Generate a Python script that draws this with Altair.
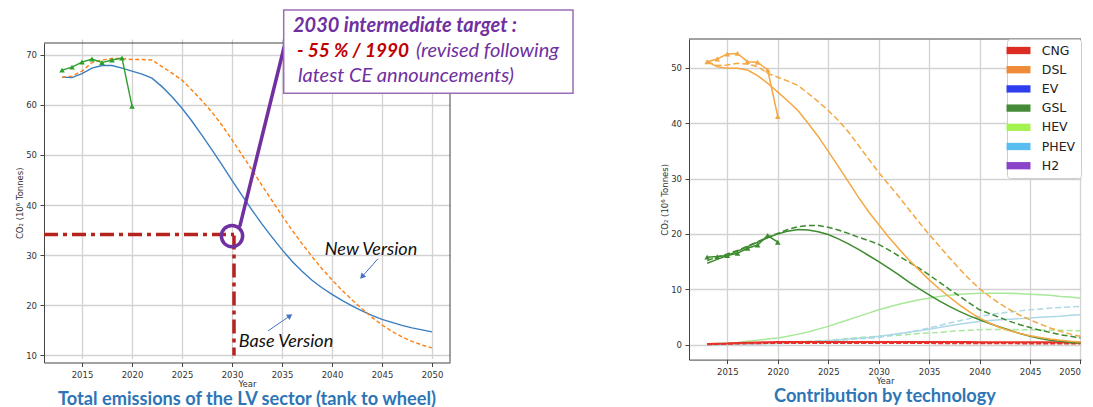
import altair as alt
import pandas as pd

# ---------------- data ----------------
years = list(range(2013, 2051))
hist_years = list(range(2013, 2021))

# Left panel: total LV emissions (10^6 t CO2)
total_base = [65.5, 65.4, 66.2, 67.3, 67.8, 67.8, 67.3, 66.7, 66.1, 65.3, 63.6, 61.6, 59.3, 56.7,
              53.9, 51.0, 48.0, 44.9, 41.9, 39.0, 36.2, 33.6, 31.1, 28.8, 26.8, 25.0, 23.5, 22.2,
              21.0, 19.9, 18.9, 18.0, 17.2, 16.6, 16.0, 15.5, 15.1, 14.7]
total_new = [65.5, 65.7, 66.7, 68.4, 68.9, 69.2, 69.2, 69.0, 69.0, 68.9, 67.6, 66.3, 64.9, 62.9,
             60.8, 58.5, 55.9, 53.0, 50.0, 47.0, 43.9, 40.9, 37.9, 35.0, 32.3, 29.7, 27.3, 25.1,
             23.0, 21.1, 19.3, 17.6, 16.1, 14.8, 13.7, 12.8, 12.1, 11.5]
total_hist = [66.9, 67.5, 68.5, 69.1, 68.4, 68.9, 69.3, 59.7]

# Right panel: contribution by technology
dsl_hist = [51.1, 51.6, 52.5, 52.6, 51.1, 51.0, 49.6, 41.2]
gsl_hist = [15.8, 15.9, 16.1, 16.5, 17.4, 18.0, 19.7, 18.5]
dsl_base = [51.1, 50.2, 49.9, 49.9, 49.6, 48.6, 47.2, 45.6, 44.0, 42.3, 40.0, 37.6, 34.9, 32.2,
            29.4, 26.6, 24.0, 21.7, 19.4, 17.3, 15.3, 13.5, 11.7, 10.1, 8.6, 7.2, 5.9, 4.8,
            3.9, 3.1, 2.5, 2.0, 1.6, 1.3, 1.0, 0.8, 0.6, 0.5]
dsl_new = [51.1, 50.4, 50.5, 50.8, 50.7, 50.2, 49.0, 48.3, 47.6, 46.8, 45.4, 43.9, 42.3, 40.5,
           38.4, 36.0, 33.5, 31.1, 28.9, 26.7, 24.4, 22.1, 19.9, 17.8, 15.7, 13.7, 11.8, 10.1,
           8.7, 7.4, 6.3, 5.3, 4.5, 3.7, 3.0, 2.4, 1.9, 1.5]
gsl_base = [14.7, 15.4, 16.1, 16.9, 17.7, 18.5, 19.3, 20.0, 20.5, 20.8, 20.7, 20.4, 19.9, 19.1,
            18.2, 17.2, 16.1, 15.0, 13.8, 12.6, 11.3, 10.1, 9.0, 7.9, 6.9, 6.0, 5.2, 4.5,
            3.8, 3.2, 2.6, 2.0, 1.5, 1.1, 0.8, 0.6, 0.4, 0.3]
gsl_new = [15.2, 15.8, 16.4, 17.0, 17.8, 18.6, 19.4, 20.1, 20.8, 21.3, 21.5, 21.5, 21.2, 20.7,
           20.1, 19.4, 18.8, 18.1, 17.1, 16.0, 14.9, 13.8, 12.6, 11.3, 10.0, 8.8, 7.5, 6.3,
           5.6, 4.9, 4.2, 3.6, 3.1, 2.6, 2.2, 1.8, 1.5, 1.2]
hev_base = [0.1, 0.2, 0.3, 0.4, 0.6, 0.8, 1.0, 1.2, 1.5, 1.9, 2.3, 2.8, 3.3, 3.9,
            4.5, 5.1, 5.7, 6.3, 6.8, 7.3, 7.7, 8.1, 8.4, 8.7, 8.9, 9.1, 9.2, 9.3,
            9.3, 9.3, 9.3, 9.2, 9.1, 9.0, 8.9, 8.7, 8.6, 8.4]
hev_new = [0.0, 0.05, 0.1, 0.15, 0.2, 0.25, 0.3, 0.35, 0.4, 0.5, 0.6, 0.7, 0.8, 0.95,
           1.1, 1.25, 1.4, 1.5, 1.6, 1.7, 1.85, 2.0, 2.1, 2.2, 2.35, 2.5, 2.6, 2.7,
           2.75, 2.75, 2.75, 2.7, 2.7, 2.65, 2.6, 2.6, 2.55, 2.5]
phev_base = [0.0, 0.0, 0.05, 0.1, 0.1, 0.15, 0.2, 0.25, 0.3, 0.4, 0.5, 0.6, 0.7, 0.85,
             1.0, 1.15, 1.3, 1.5, 1.75, 2.0, 2.25, 2.5, 2.8, 3.1, 3.4, 3.7, 3.95, 4.2,
             4.35, 4.5, 4.6, 4.7, 4.8, 4.95, 5.05, 5.15, 5.3, 5.4]
phev_new = [0.0, 0.0, 0.05, 0.1, 0.1, 0.15, 0.15, 0.2, 0.3, 0.35, 0.45, 0.55, 0.7, 0.8,
            0.9, 1.05, 1.15, 1.3, 1.6, 1.9, 2.25, 2.6, 3.0, 3.45, 3.9, 4.3, 4.7, 5.1,
            5.4, 5.7, 5.9, 6.1, 6.3, 6.45, 6.6, 6.7, 6.8, 6.9]
cng_base = [0.1, 0.15, 0.2, 0.3, 0.35, 0.4, 0.45, 0.5, 0.5, 0.5, 0.5, 0.5, 0.5, 0.5,
            0.5, 0.5, 0.5, 0.5, 0.5, 0.5, 0.5, 0.48, 0.48, 0.47, 0.47, 0.46, 0.46, 0.45,
            0.45, 0.44, 0.44, 0.43, 0.43, 0.42, 0.42, 0.41, 0.41, 0.4]
cng_new = [0.05, 0.1, 0.15, 0.2, 0.25, 0.25, 0.3, 0.3, 0.3, 0.3, 0.3, 0.3, 0.3, 0.3,
           0.3, 0.3, 0.3, 0.3, 0.3, 0.3, 0.3, 0.28, 0.28, 0.27, 0.27, 0.26, 0.26, 0.25,
           0.25, 0.24, 0.24, 0.23, 0.23, 0.22, 0.22, 0.21, 0.21, 0.2]

techs = ["CNG", "DSL", "EV", "GSL", "HEV", "PHEV", "H2"]
tech_colors = ["#dd2c22", "#ee8a38", "#2e3df0", "#448a37", "#a3f24f", "#58bef0", "#8b44c8"]

x_ticks = [2015, 2020, 2025, 2030, 2035, 2040, 2045, 2050]
y_ticks_left = [10, 20, 30, 40, 50, 60, 70]
y_ticks_right = [0, 10, 20, 30, 40, 50]

# ---------------- styling helpers ----------------
FONT = "DejaVu Sans"
LX = [2011.2, 2051.8]
LY = [8.6, 72.3]
RX = [2011.2, 2050.05]
RY = [-2.7, 55.2]
LW, LH = 406, 323.5
RW, RH = 392, 320.6

xs_l = alt.Scale(domain=LX, nice=False, zero=False)
ys_l = alt.Scale(domain=LY, nice=False, zero=False, range=[LH, 4])
xs_r = alt.Scale(domain=RX, nice=False, zero=False)
ys_r = alt.Scale(domain=RY, nice=False, zero=False)

def axis(values, title, **extra):
    return alt.Axis(values=values, format="d", grid=True, gridColor="#d2d2d2", gridWidth=1.3,
                    domainColor="#444", tickColor="#444", tickSize=4, labelFont=FONT,
                    labelFontSize=8.5, labelColor="#333", labelPadding=3.5, title=title,
                    titleFont=FONT, titleFontSize=8.5, titleFontWeight="normal",
                    titleColor="#333", titlePadding=1, **extra)

ax_xl = axis(x_ticks, "Year")
ax_yl = axis(y_ticks_left, "CO₂ (10⁶ Tonnes)")
ax_xr = axis(x_ticks, "Year", labelFlush=5)
ax_yr = axis(y_ticks_right, "CO₂ (10⁶ Tonnes)")

def XL(f="year"): return alt.X(f, type="quantitative", scale=xs_l, axis=ax_xl)
def YL(f="value"): return alt.Y(f, type="quantitative", scale=ys_l, axis=ax_yl)
def XR(f="year"): return alt.X(f, type="quantitative", scale=xs_r, axis=ax_xr)
def YR(f="value"): return alt.Y(f, type="quantitative", scale=ys_r, axis=ax_yr)

def series(ys, xs=years):
    return pd.DataFrame({"year": xs, "value": ys})

# ---------------- left panel ----------------
l_base = alt.Chart(series(total_base)).mark_line(color="#3b7ec0", strokeWidth=1.4).encode(x=XL(), y=YL())
l_new = alt.Chart(series(total_new)).mark_line(color="#ff7f0e", strokeWidth=1.4, strokeDash=[4, 2.5]).encode(x=XL(), y=YL())
l_hist = alt.Chart(series(total_hist, hist_years)).mark_line(
    color="#2ca02c", strokeWidth=1.4,
    point=alt.OverlayMarkDef(shape="triangle-up", size=32, filled=True, color="#2ca02c")
).encode(x=XL(), y=YL())

spine_l = pd.DataFrame({"x": [LX[0], LX[1]], "x2": [LX[1], LX[1]], "y": [LY[1], LY[0]], "y2": [LY[1], LY[1]]})
l_spine = alt.Chart(spine_l).mark_rule(color="#444", strokeWidth=1).encode(
    x=XL("x"), x2="x2", y=YL("y"), y2="y2")

target = pd.DataFrame({"x": [LX[0], 2030.2], "x2": [2030.2, 2030.2], "y": [34.1, 33.9], "y2": [34.1, 10.0]})
l_target = alt.Chart(target).mark_rule(color="#b5231f", strokeWidth=3.5, strokeDash=[14, 5, 4, 5]).encode(
    x=XL("x"), x2="x2", y=YL("y"), y2="y2")

circle = pd.DataFrame({"year": [2030.0], "value": [33.8]})
l_circle = alt.Chart(circle).mark_point(shape="circle", size=452, filled=False, color="#7030a0",
                                        strokeWidth=3.5, opacity=1).encode(x=XL(), y=YL())

pointer = pd.DataFrame({"x": [2030.8], "y": [35.9], "x2": [2035.2], "y2": [71.4]})
l_pointer = alt.Chart(pointer).mark_rule(color="#7030a0", strokeWidth=3.5, strokeCap="round").encode(
    x=XL("x"), x2="x2", y=YL("y"), y2="y2")

box = pd.DataFrame({"x": [2035.17], "x2": [2064.1], "y": [78.9], "y2": [62.3]})
l_box = alt.Chart(box).mark_rect(fill="white", stroke="#9c6cb8", strokeWidth=1.5).encode(
    x=XL("x"), x2="x2", y=YL("y"), y2="y2")

def txt(df, color, size=20, weight="normal", style="italic"):
    return alt.Chart(df).mark_text(align="left", baseline="middle", font="Lato", fontSize=size,
                                   fontWeight=weight, fontStyle=style, color=color).encode(
        x=XL(), y=YL(), text="t:N")

l_t1 = txt(pd.DataFrame({"year": [2036.1], "value": [75.7], "t": ["2030 intermediate target :"]}), "#7030a0", size=20, weight="bold")
l_t2a = txt(pd.DataFrame({"year": [2036.5], "value": [70.7], "t": ["- 55 % / 1990"]}), "#c00000", size=19, weight="bold")
l_t2b = txt(pd.DataFrame({"year": [2048.4], "value": [70.7], "t": ["(revised following"]}), "#7030a0")
l_t3 = txt(pd.DataFrame({"year": [2036.6], "value": [65.7], "t": ["latest CE announcements)"]}), "#7030a0")

labels = pd.DataFrame({"year": [2043.9, 2035.4], "value": [31.1, 12.7], "t": ["New Version", "Base Version"]})
l_labels = alt.Chart(labels).mark_text(align="center", baseline="middle", font="Lato", fontSize=18,
                                       fontStyle="italic", color="#111").encode(x=XL(), y=YL(), text="t:N")

arrows = pd.DataFrame({"x": [2044.6, 2033.6], "y": [29.3, 14.9], "x2": [2043.0, 2035.8], "y2": [25.7, 17.9],
                       "ang": [221.6, 55.7]})
l_arrow_lines = alt.Chart(arrows).mark_rule(color="#4472c4", strokeWidth=1).encode(
    x=XL("x"), x2="x2", y=YL("y"), y2="y2")
l_arrow_heads = alt.Chart(arrows).mark_point(shape="triangle-up", filled=True, size=40, color="#4472c4",
                                             opacity=1).encode(
    x=XL("x2"), y=YL("y2"), angle=alt.Angle("ang:Q", scale=None))

left = alt.layer(
    l_spine, l_base, l_new, l_hist, l_target, l_pointer, l_circle, l_box,
    l_t1, l_t2a, l_t2b, l_t3, l_labels, l_arrow_lines, l_arrow_heads
).properties(
    width=LW, height=LH,
    title=alt.TitleParams("Total emissions of the LV sector (tank to wheel)", orient="bottom",
                          anchor="middle", font="Lato", fontSize=18.2, fontWeight="bold",
                          color="#2e75b6", offset=3)
)

# ---------------- right panel ----------------
def rline(ys, color, dash=None, width=1.5, opacity=1.0):
    kw = dict(color=color, strokeWidth=width, opacity=opacity)
    if dash:
        kw["strokeDash"] = dash
    return alt.Chart(series(ys)).mark_line(**kw).encode(x=XR(), y=YR())

spine_r = pd.DataFrame({"x": [RX[0]], "x2": [RX[1]], "y": [RY[1]], "y2": [RY[1]]})
r_spine = alt.Chart(spine_r).mark_rule(color="#444", strokeWidth=1).encode(
    x=XR("x"), x2="x2", y=YR("y"), y2="y2")

D = [6, 3]
r_layers = [
    r_spine,
    rline(hev_base, "#a8e89a"), rline(hev_new, "#a8e89a", D),
    rline(phev_base, "#add8e6"), rline(phev_new, "#add8e6", D),
    rline(cng_base, "#e8302a", width=2), rline(cng_new, "#e8302a", [5, 2], width=2),
    rline(gsl_base, "#3d8b2f"), rline(gsl_new, "#3d8b2f", D),
    rline(dsl_base, "#f5a742"), rline(dsl_new, "#f5a742", D),
]
for ys, col in [(dsl_hist, "#f5a742"), (gsl_hist, "#3d8b2f")]:
    r_layers.append(alt.Chart(series(ys, hist_years)).mark_line(
        color=col, strokeWidth=1.5,
        point=alt.OverlayMarkDef(shape="triangle-up", size=32, filled=True, color=col)
    ).encode(x=XR(), y=YR()))

legend_df = pd.DataFrame({"tech": techs})
r_legend = alt.Chart(legend_df).mark_square(opacity=0).encode(
    color=alt.Color("tech:N", scale=alt.Scale(domain=techs, range=tech_colors),
                    legend=alt.Legend(title=None, orient="none", legendX=963, legendY=0,
                                      symbolType="M-1.92,-0.584H1.92V0.584H-1.92Z", symbolSize=156,
                                      symbolOpacity=1, symbolStrokeWidth=0,
                                      labelFont=FONT, labelFontSize=12.5, labelColor="#222",
                                      labelOffset=16.75, rowPadding=6.2, padding=5,
                                      fillColor="white", strokeColor="#cccccc", cornerRadius=3))
)
r_layers.append(r_legend)

right = alt.layer(*r_layers).properties(
    width=RW, height=RH,
    title=alt.TitleParams("Contribution by technology", orient="bottom", anchor="middle",
                          font="Lato", fontSize=18.2, fontWeight="bold", color="#2e75b6", offset=3)
)

chart = alt.hconcat(left, right, spacing=691 - 452, bounds="flush").properties(
    padding={"left": 7, "top": 0, "right": 0, "bottom": 0}
).configure_view(stroke="transparent")

chart.save("out.html", embed_options={"renderer": "svg", "actions": False})
